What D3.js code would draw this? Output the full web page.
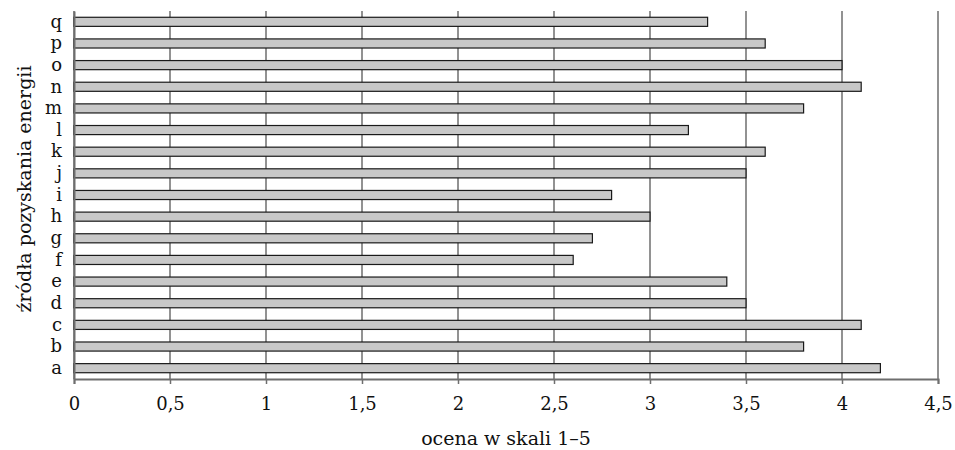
<!DOCTYPE html>
<html>
<head>
<meta charset="utf-8">
<script src="https://cdn.jsdelivr.net/npm/d3@7"></script>
<style>
  body { margin: 0; background: #fff; }
  .vis { width: 955px; height: 450px; }
  text { font-family: "DejaVu Serif", "Liberation Serif", serif; fill: #111; }
</style>
</head>
<body>
<div class="vis"></div>
<script>
(function() {
  'use strict';

  var categories = ['a', 'b', 'c', 'd', 'e', 'f', 'g', 'h', 'i', 'j', 'k', 'l', 'm', 'n', 'o', 'p', 'q'];
  var values = [4.2, 3.8, 4.1, 3.5, 3.4, 2.6, 2.7, 3.0, 2.8, 3.5, 3.6, 3.2, 3.8, 4.1, 4.0, 3.6, 3.3];
  var xTicks = [0, 0.5, 1, 1.5, 2, 2.5, 3, 3.5, 4, 4.5];
  var xTitle = 'ocena w skali 1–5';
  var yTitle = 'źródła pozyskania energii';

  var elWidth = 955,
    elHeight = 450,
    margin = {top: 11, right: 17, bottom: 71, left: 74},
    width = elWidth - margin.left - margin.right,
    height = elHeight - margin.top - margin.bottom;

  var svg = d3.select('.vis').append('svg')
      .attr('width', elWidth)
      .attr('height', elHeight)
    .append('g')
      .attr('transform', 'translate(' + margin.left + ',' + margin.top + ')');

  var x = d3.scaleLinear().domain([0, 4.5]).range([0, width]);
  var y = d3.scaleBand().domain(categories.slice().reverse()).range([0, height]).paddingInner(0.58).paddingOuter(0.29);

  // vertical gridlines
  svg.selectAll('.grid')
    .data(xTicks)
    .enter()
    .append('line')
      .attr('x1', function(d) { return x(d); })
      .attr('x2', function(d) { return x(d); })
      .attr('y1', 0)
      .attr('y2', height)
      .attr('stroke', '#6e6e6e')
      .attr('stroke-width', 1.5);

  svg.selectAll('.bar')
    .data(categories)
    .enter()
    .append('rect')
      .attr('x', x(0))
      .attr('y', function(d) { return y(d); })
      .attr('width', function(d, i) { return x(values[i]) - x(0); })
      .attr('height', y.bandwidth())
      .attr('fill', '#c8c8c8')
      .attr('stroke', '#1a1a1a')
      .attr('stroke-width', 1.2);

  // x axis
  var xAxis = svg.append('g')
    .attr('transform', 'translate(0,' + height + ')')
    .call(d3.axisBottom(x).tickValues(xTicks).tickSize(5).tickPadding(13)
      .tickFormat(function(d) { return String(d).replace('.', ','); }));
  xAxis.select('.domain').attr('stroke', '#6e6e6e').attr('stroke-width', 2);
  xAxis.selectAll('.tick line').attr('stroke', '#6e6e6e').attr('stroke-width', 1.5);
  xAxis.selectAll('text').attr('font-size', 18).attr('font-family', '"DejaVu Serif", serif').attr('fill', '#111');

  // y axis
  var yAxis = svg.append('g')
    .call(d3.axisLeft(y).tickSize(0).tickPadding(12));
  yAxis.select('.domain').attr('stroke', '#6e6e6e').attr('stroke-width', 2);
  yAxis.selectAll('text').attr('font-size', 18).attr('font-family', '"DejaVu Serif", serif').attr('fill', '#111');

  svg.append('text')
    .attr('x', width / 2)
    .attr('y', height + 66)
    .attr('text-anchor', 'middle')
    .attr('font-size', 19)
    .text(xTitle);

  svg.append('text')
    .attr('transform', 'translate(' + (-43) + ',' + 178 + ') rotate(-90)')
    .attr('text-anchor', 'middle')
    .attr('font-size', 19)
    .text(yTitle);
}());
</script>
</body>
</html>
